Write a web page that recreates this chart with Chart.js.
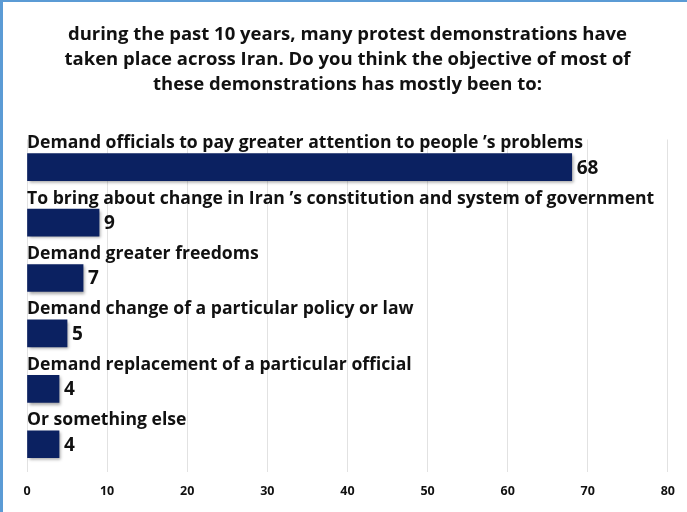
<!DOCTYPE html>
<html>
<head>
<meta charset="utf-8">
<script src="https://cdn.jsdelivr.net/npm/chart.js@4/dist/chart.umd.min.js"></script>
<style>
  html, body { margin: 0; padding: 0; background: #fff; }
  #wrap { position: relative; width: 687px; height: 512px; box-sizing: border-box;
          border-left: 3px solid #5b9bd5; border-top: 2px solid #5b9bd5; }
  canvas { display: block; }
</style>
</head>
<body>
<div id="wrap"><canvas id="c" width="684" height="510"></canvas></div>
<script>
// Survey answers and their shares (%)
const categories = [
  "Demand officials to pay greater attention to people \u2019s problems",
  "To bring about change in Iran \u2019s constitution and system of government",
  "Demand greater freedoms",
  "Demand change of a particular policy or law",
  "Demand replacement of a particular official",
  "Or something else"
];
const values = [68, 9, 7, 5, 4, 4];
const xTicks = [0, 10, 20, 30, 40, 50, 60, 70, 80];
const titleLines = [
  "during the past 10 years, many protest demonstrations have",
  "taken place across Iran. Do you think the objective of most of",
  "these demonstrations has mostly been to:"
];

const FONT = "'Open Sans', Lato, sans-serif";

// Soft drop shadow under the bars
const barShadow = {
  id: 'barShadow',
  beforeDatasetDraw(chart) {
    const ctx = chart.ctx;
    ctx.save();
    ctx.shadowColor = 'rgba(0,0,0,0.35)';
    ctx.shadowOffsetX = 2;
    ctx.shadowOffsetY = 2;
    ctx.shadowBlur = 3;
  },
  afterDatasetDraw(chart) {
    chart.ctx.restore();
  }
};

// Category captions above each bar and values after each bar
const barText = {
  id: 'barText',
  afterDatasetsDraw(chart) {
    const ctx = chart.ctx;
    const meta = chart.getDatasetMeta(0);
    const xs = chart.scales.x;
    ctx.save();
    ctx.fillStyle = '#111';
    meta.data.forEach((bar, i) => {
      ctx.font = "bold 17.6px " + FONT;
      ctx.textAlign = 'left';
      ctx.textBaseline = 'alphabetic';
      ctx.fillText(categories[i], xs.left, bar.y - 19);
      ctx.font = "bold 19px " + FONT;
      ctx.textBaseline = 'middle';
      ctx.fillText(String(values[i]), bar.x + 5, bar.y + 1);
    });
    ctx.restore();
  }
};

new Chart(document.getElementById('c'), {
  type: 'bar',
  data: {
    labels: categories,
    datasets: [{
      data: values,
      backgroundColor: '#0b2161',
      borderWidth: 0,
      barThickness: 27
    }]
  },
  options: {
    indexAxis: 'y',
    responsive: false,
    animation: false,
    devicePixelRatio: 1,
    layout: { padding: { left: 24, right: 19, top: 6, bottom: 1 } },
    plugins: {
      legend: { display: false },
      tooltip: { enabled: false },
      title: {
        display: true,
        text: titleLines,
        color: '#111',
        font: { family: FONT, size: 18.5, weight: 'bold', lineHeight: 1.36 },
        padding: { top: 14, bottom: 42 }
      }
    },
    scales: {
      x: {
        min: 0, max: 80,
        afterBuildTicks(scale) { scale.ticks = xTicks.map(v => ({ value: v })); },
        grid: { color: '#e2e2e2', drawTicks: false },
        border: { display: false },
        ticks: { color: '#111', padding: 12, font: { family: FONT, size: 12.5, weight: 'bold' } }
      },
      y: {
        display: false
      }
    }
  },
  plugins: [barShadow, barText]
});
</script>
</body>
</html>
